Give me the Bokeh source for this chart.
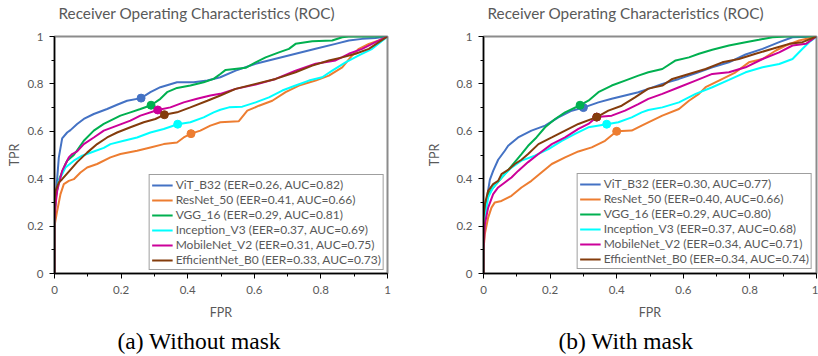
from bokeh.plotting import figure
from bokeh.layouts import row
from bokeh.models import FixedTicker, CustomJSTickFormatter, Legend, LegendItem, Title
from bokeh.embed import file_html
from bokeh.resources import INLINE

TITLE = "Receiver Operating Characteristics (ROC)"
models = ["ViT_B32", "ResNet_50", "VGG_16", "Inception_V3", "MobileNet_V2", "EfficientNet_B0"]
colors = ["#4472C4", "#ED7D31", "#00B050", "#00FFFF", "#CC0099", "#843C0C"]
major_ticks = [0, 0.2, 0.4, 0.6, 0.8, 1.0]
minor_ticks = [0.1, 0.3, 0.5, 0.7, 0.9]

# ---- (a) Without mask ----
eer_a = [0.26, 0.41, 0.29, 0.37, 0.31, 0.33]
auc_a = [0.82, 0.66, 0.81, 0.69, 0.75, 0.73]
vit_a_fpr = [0, 0, 0.004, 0.008, 0.013, 0.023, 0.038, 0.048, 0.068, 0.088, 0.118, 0.158, 0.188, 0.218, 0.26, 0.288, 0.318, 0.368, 0.418, 0.459, 0.498, 0.544, 0.604, 0.664, 0.724, 0.784, 0.844, 0.884, 0.924, 0.964, 1.0]
vit_a_tpr = [0, 0.25, 0.33, 0.40, 0.49, 0.57, 0.595, 0.605, 0.631, 0.652, 0.673, 0.694, 0.712, 0.729, 0.74, 0.765, 0.786, 0.807, 0.807, 0.814, 0.828, 0.856, 0.885, 0.906, 0.927, 0.948, 0.969, 0.983, 0.990, 0.994, 1.0]
res_a_fpr = [0, 0, 0.008, 0.018, 0.028, 0.043, 0.058, 0.078, 0.098, 0.128, 0.168, 0.198, 0.248, 0.288, 0.328, 0.368, 0.388, 0.41, 0.438, 0.468, 0.498, 0.553, 0.579, 0.614, 0.654, 0.694, 0.734, 0.784, 0.824, 0.864, 0.894, 0.914, 0.944, 0.974, 1.0]
res_a_tpr = [0, 0.2, 0.264, 0.335, 0.377, 0.391, 0.398, 0.426, 0.447, 0.462, 0.49, 0.504, 0.518, 0.532, 0.546, 0.553, 0.574, 0.59, 0.603, 0.624, 0.638, 0.642, 0.687, 0.708, 0.729, 0.765, 0.793, 0.814, 0.835, 0.870, 0.920, 0.948, 0.969, 0.983, 1.0]
vgg_a_fpr = [0, 0, 0.005, 0.013, 0.016, 0.033, 0.038, 0.058, 0.088, 0.118, 0.148, 0.198, 0.228, 0.258, 0.29, 0.318, 0.338, 0.368, 0.408, 0.448, 0.478, 0.498, 0.514, 0.574, 0.604, 0.634, 0.674, 0.704, 0.724, 0.774, 0.834, 0.864, 0.883, 1.0]
vgg_a_tpr = [0, 0.25, 0.33, 0.391, 0.405, 0.462, 0.476, 0.50, 0.560, 0.603, 0.631, 0.666, 0.680, 0.694, 0.71, 0.737, 0.765, 0.783, 0.793, 0.807, 0.821, 0.842, 0.859, 0.868, 0.891, 0.912, 0.933, 0.948, 0.969, 0.980, 0.983, 0.997, 1.0, 1.0]
inc_a_fpr = [0, 0, 0.003, 0.013, 0.033, 0.058, 0.083, 0.118, 0.148, 0.168, 0.208, 0.248, 0.288, 0.328, 0.37, 0.408, 0.448, 0.478, 0.498, 0.524, 0.564, 0.604, 0.644, 0.684, 0.724, 0.764, 0.804, 0.834, 0.874, 0.914, 0.954, 1.0]
inc_a_tpr = [0, 0.25, 0.321, 0.391, 0.447, 0.476, 0.497, 0.515, 0.53, 0.546, 0.560, 0.574, 0.595, 0.610, 0.63, 0.638, 0.659, 0.680, 0.691, 0.701, 0.704, 0.722, 0.743, 0.772, 0.793, 0.814, 0.828, 0.856, 0.891, 0.920, 0.948, 1.0]
mob_a_fpr = [0, 0, 0.004, 0.008, 0.023, 0.038, 0.043, 0.053, 0.068, 0.088, 0.118, 0.148, 0.188, 0.228, 0.258, 0.31, 0.348, 0.388, 0.428, 0.468, 0.498, 0.544, 0.604, 0.664, 0.724, 0.784, 0.844, 0.884, 0.924, 0.964, 1.0]
mob_a_tpr = [0, 0.22, 0.30, 0.349, 0.433, 0.476, 0.49, 0.504, 0.515, 0.546, 0.574, 0.603, 0.624, 0.645, 0.666, 0.69, 0.701, 0.722, 0.737, 0.751, 0.758, 0.779, 0.797, 0.821, 0.856, 0.885, 0.899, 0.927, 0.948, 0.976, 1.0]
eff_a_fpr = [0, 0, 0.003, 0.013, 0.023, 0.043, 0.068, 0.098, 0.128, 0.158, 0.188, 0.228, 0.268, 0.303, 0.33, 0.368, 0.408, 0.459, 0.498, 0.544, 0.604, 0.664, 0.724, 0.774, 0.824, 0.864, 0.904, 0.944, 1.0]
eff_a_tpr = [0, 0.306, 0.349, 0.384, 0.398, 0.43, 0.47, 0.51, 0.546, 0.574, 0.595, 0.617, 0.638, 0.652, 0.67, 0.680, 0.701, 0.729, 0.751, 0.779, 0.800, 0.821, 0.849, 0.877, 0.899, 0.912, 0.927, 0.948, 1.0]

# ---- (b) With mask ----
eer_b = [0.30, 0.40, 0.29, 0.37, 0.34, 0.34]
auc_b = [0.77, 0.66, 0.80, 0.68, 0.71, 0.74]
vit_b_fpr = [0, 0, 0.004, 0.009, 0.019, 0.029, 0.044, 0.064, 0.074, 0.104, 0.144, 0.185, 0.225, 0.265, 0.30, 0.345, 0.385, 0.425, 0.465, 0.495, 0.537, 0.587, 0.637, 0.687, 0.737, 0.787, 0.838, 0.888, 0.928, 1.0]
vit_b_tpr = [0, 0.15, 0.208, 0.306, 0.395, 0.433, 0.48, 0.518, 0.539, 0.574, 0.603, 0.624, 0.659, 0.687, 0.70, 0.722, 0.737, 0.751, 0.765, 0.779, 0.800, 0.821, 0.845, 0.870, 0.891, 0.924, 0.948, 0.976, 0.997, 1.0]
res_b_fpr = [0, 0, 0.004, 0.014, 0.024, 0.034, 0.054, 0.084, 0.114, 0.144, 0.174, 0.205, 0.245, 0.285, 0.325, 0.365, 0.40, 0.445, 0.475, 0.495, 0.537, 0.587, 0.617, 0.647, 0.667, 0.707, 0.757, 0.797, 0.838, 0.878, 0.908, 0.948, 1.0]
res_b_tpr = [0, 0.1, 0.166, 0.236, 0.278, 0.300, 0.306, 0.328, 0.363, 0.391, 0.426, 0.462, 0.490, 0.515, 0.532, 0.560, 0.60, 0.603, 0.624, 0.638, 0.666, 0.694, 0.729, 0.758, 0.786, 0.814, 0.849, 0.891, 0.905, 0.941, 0.962, 0.983, 1.0]
vgg_b_fpr = [0, 0, 0.004, 0.014, 0.029, 0.064, 0.094, 0.114, 0.134, 0.159, 0.185, 0.215, 0.245, 0.29, 0.315, 0.345, 0.385, 0.425, 0.465, 0.495, 0.537, 0.577, 0.617, 0.647, 0.687, 0.737, 0.787, 0.827, 0.868, 0.908, 1.0]
vgg_b_tpr = [0, 0.18, 0.278, 0.335, 0.363, 0.419, 0.47, 0.504, 0.539, 0.574, 0.617, 0.652, 0.680, 0.71, 0.729, 0.765, 0.793, 0.814, 0.835, 0.849, 0.863, 0.899, 0.912, 0.927, 0.944, 0.962, 0.976, 0.986, 0.997, 1.0, 1.0]
inc_b_fpr = [0, 0, 0.004, 0.014, 0.029, 0.054, 0.084, 0.114, 0.154, 0.195, 0.235, 0.275, 0.315, 0.37, 0.405, 0.445, 0.475, 0.495, 0.537, 0.587, 0.637, 0.687, 0.737, 0.787, 0.838, 0.888, 0.928, 0.958, 0.978, 1.0]
inc_b_tpr = [0, 0.15, 0.236, 0.321, 0.363, 0.405, 0.447, 0.476, 0.497, 0.525, 0.560, 0.589, 0.617, 0.63, 0.638, 0.659, 0.680, 0.690, 0.701, 0.722, 0.758, 0.786, 0.817, 0.849, 0.870, 0.884, 0.905, 0.948, 0.976, 1.0]
mob_b_fpr = [0, 0, 0.004, 0.014, 0.029, 0.044, 0.064, 0.084, 0.104, 0.134, 0.165, 0.205, 0.245, 0.285, 0.315, 0.34, 0.385, 0.425, 0.465, 0.495, 0.537, 0.587, 0.637, 0.687, 0.737, 0.787, 0.838, 0.888, 0.928, 0.968, 1.0]
mob_b_tpr = [0, 0.095, 0.208, 0.278, 0.335, 0.363, 0.384, 0.405, 0.433, 0.47, 0.504, 0.546, 0.574, 0.610, 0.631, 0.66, 0.666, 0.687, 0.715, 0.737, 0.758, 0.786, 0.814, 0.842, 0.849, 0.870, 0.905, 0.933, 0.962, 0.969, 1.0]
eff_b_fpr = [0, 0, 0.004, 0.014, 0.029, 0.044, 0.054, 0.074, 0.094, 0.114, 0.134, 0.165, 0.205, 0.245, 0.285, 0.34, 0.375, 0.415, 0.455, 0.495, 0.537, 0.567, 0.617, 0.667, 0.717, 0.767, 0.817, 0.868, 0.918, 0.958, 1.0]
eff_b_tpr = [0, 0.236, 0.292, 0.349, 0.377, 0.391, 0.419, 0.437, 0.462, 0.48, 0.504, 0.546, 0.574, 0.603, 0.631, 0.66, 0.687, 0.708, 0.743, 0.78, 0.793, 0.821, 0.842, 0.863, 0.891, 0.905, 0.927, 0.948, 0.969, 0.976, 1.0]

curves_a = [(vit_a_fpr, vit_a_tpr), (res_a_fpr, res_a_tpr), (vgg_a_fpr, vgg_a_tpr),
            (inc_a_fpr, inc_a_tpr), (mob_a_fpr, mob_a_tpr), (eff_a_fpr, eff_a_tpr)]
curves_b = [(vit_b_fpr, vit_b_tpr), (res_b_fpr, res_b_tpr), (vgg_b_fpr, vgg_b_tpr),
            (inc_b_fpr, inc_b_tpr), (mob_b_fpr, mob_b_tpr), (eff_b_fpr, eff_b_tpr)]

GRAY = "#595959"
SANS = "Lato"


def spacer(gap):
    return Title(text=" ", text_font_size="1px", standoff=gap, text_color="white")


def make_panel(curves, eers, aucs, caption, b_left, b_right, ylab_standoff, cap_offset, legend_margin):
    p = figure(width=409, height=356, x_range=(0, 1), y_range=(0, 1),
               output_backend="svg", toolbar_location=None, title=None,
               min_border_left=b_left, min_border_right=b_right,
               min_border_top=36, min_border_bottom=83)
    p.background_fill_color = "white"
    p.border_fill_color = "white"
    p.outline_line_color = "#8c8c8c"
    p.outline_line_width = 2
    p.xgrid.visible = False
    p.ygrid.visible = False

    for ax in (p.xaxis[0], p.yaxis[0]):
        ax.ticker = FixedTicker(ticks=major_ticks, minor_ticks=minor_ticks)
        ax.formatter = CustomJSTickFormatter(code="return String(Math.round(tick*10)/10)")
        ax.axis_line_color = "black"
        ax.axis_line_width = 1.5
        ax.major_tick_line_color = "black"
        ax.minor_tick_line_color = "black"
        ax.major_tick_in = 0
        ax.major_tick_out = 5
        ax.minor_tick_in = 0
        ax.minor_tick_out = 3
        ax.major_label_text_font = SANS
        ax.major_label_text_font_size = "11.5px"
        ax.major_label_text_color = GRAY
        ax.axis_label_text_font = SANS
        ax.axis_label_text_font_size = "12.5px"
        ax.axis_label_text_font_style = "normal"
        ax.axis_label_text_color = GRAY
    p.xaxis.major_label_standoff = 7
    p.yaxis.major_label_standoff = 6
    p.xaxis.axis_label = "FPR"
    p.yaxis.axis_label = "TPR"
    p.xaxis.axis_label_standoff = 8
    p.yaxis.axis_label_standoff = ylab_standoff

    items = []
    for name, col, (fx, fy), e, a in zip(models, colors, curves, eers, aucs):
        r = p.line(fx, fy, line_color=col, line_width=2)
        p.scatter([e], [1 - e], size=8, color=col)
        items.append(LegendItem(label=f"{name} (EER={e:.2f}, AUC={a:.2f})", renderers=[r]))

    legend = Legend(items=items, location="bottom_right", margin=legend_margin,
                    border_line_color="#404040", border_line_width=1,
                    background_fill_color="white", background_fill_alpha=1,
                    label_text_font=SANS, label_text_font_size="12px",
                    label_text_color=GRAY, glyph_width=21, glyph_height=12,
                    label_height=12, spacing=0, padding=2, label_standoff=3)
    p.add_layout(legend)

    # title above (spacer first so it sits next to the frame)
    p.add_layout(spacer(12), "above")
    p.add_layout(Title(text=TITLE, align="left", offset=4, text_font=SANS,
                       text_font_size="15.3px", text_font_style="normal",
                       text_color=GRAY, standoff=0), "above")
    # caption below the x axis
    p.add_layout(spacer(0), "below")
    p.add_layout(Title(text=caption, align="left", offset=cap_offset,
                       text_font="Liberation Serif", text_font_size="23.5px",
                       text_font_style="normal", text_color="black", standoff=0), "below")
    return p


p1 = make_panel(curves_a, eer_a, auc_a, "(a) Without mask", 54, 22, 2, 63, 3)
p2 = make_panel(curves_b, eer_b, auc_b, "(b) With mask", 74, 2, 11, 75, 4)

layout = row(p1, p2)
open("out.html", "w").write(file_html(layout, INLINE))
